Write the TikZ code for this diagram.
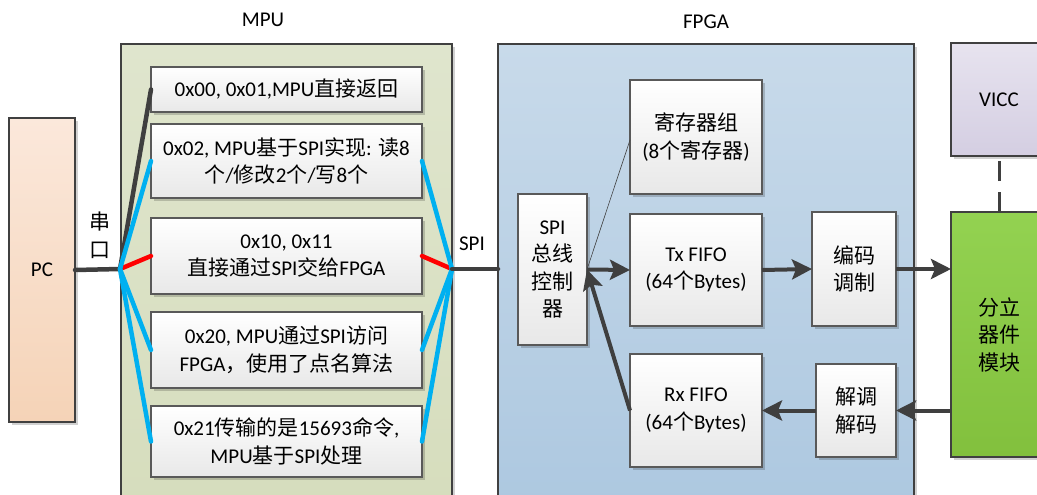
\documentclass[tikz,border=0pt]{standalone}
\usepackage{fontspec}
\setmainfont{Carlito}
\newfontfamily\cjk{Noto Sans CJK SC}
\newcommand\zh[1]{{\cjk #1}}
\usetikzlibrary{arrows.meta,shadows,calc}

\definecolor{ink}{HTML}{404040}
\definecolor{frame}{HTML}{595959}
\definecolor{wire}{HTML}{3F3F3F}
\definecolor{bluewire}{HTML}{00B0F0}
\definecolor{redwire}{HTML}{FF0000}
\definecolor{pctop}{HTML}{FBE8DB}
\definecolor{pcbot}{HTML}{F5D3B7}
\definecolor{mputop}{HTML}{DFE5CD}
\definecolor{mpubot}{HTML}{D6DDBD}
\definecolor{fpgatop}{HTML}{C8DAEA}
\definecolor{fpgabot}{HTML}{ADC8E0}
\definecolor{vicctop}{HTML}{E7E3EF}
\definecolor{viccbot}{HTML}{D4CEE2}
\definecolor{modtop}{HTML}{93D251}
\definecolor{modbot}{HTML}{82C03D}
\definecolor{celltop}{HTML}{FFFFFF}
\definecolor{cellbot}{HTML}{E8E8E8}

\tikzset{
  shade/.style={drop shadow={shadow xshift=3pt,shadow yshift=-3pt,fill=black,opacity=0.18}},
  box/.style={shape=rectangle,draw=frame,line width=1.1pt,inner sep=2pt,outer sep=0pt,
              align=center,text=black,shade},
  cell/.style={box,top color=celltop,bottom color=cellbot},
  container/.style={box,draw=ink},
  tag/.style={align=center,text=black},
  link/.style={line width=4.5pt,line cap=round},
  arr/.style={line width=4pt,draw=wire,-{Stealth[length=20pt,width=20pt,inset=4pt]}},
}

\begin{document}
\begin{tikzpicture}[x=1pt,y=-1pt,font=\fontsize{21}{27.5}\selectfont]
\useasboundingbox (0,0) rectangle (1037,495);
\clip (0,0) rectangle (1037,495);

% --- PC ---
\node[container,top color=pctop,bottom color=pcbot,minimum width=66pt,minimum height=304pt]
  (pc) at (42,270) {PC};

% --- MPU block ---
\node[container,top color=mputop,bottom color=mpubot,minimum width=331pt,minimum height=461pt]
  (mpu) at (286.5,274.5) {};
\node[tag] (mpulabel) at (263,20) {MPU};

\node[cell,minimum width=271pt,minimum height=45pt] (b1) at (286.5,89.5)
  {0x00, 0x01,MPU\zh{直接返回}};
\node[cell,minimum width=271pt,minimum height=74pt] (b2) at (286.5,161)
  {0x02, MPU\zh{基于}SPI\zh{实现}: \zh{读}8\\\zh{个}/\zh{修改}2\zh{个}/\zh{写}8\zh{个}};
\node[cell,minimum width=271pt,minimum height=76pt] (b3) at (286.5,256)
  {0x10, 0x11\\\zh{直接通过}SPI\zh{交给}FPGA};
\node[cell,minimum width=271pt,minimum height=76pt] (b4) at (286.5,350)
  {0x20, MPU\zh{通过}SPI\zh{访问}\\FPGA\zh{，使用了点名算法}};
\node[cell,minimum width=271pt,minimum height=71pt] (b5) at (286.5,441.5)
  {0x21\zh{传输的是}15693\zh{命令},\\MPU\zh{基于}SPI\zh{处理}};

% --- FPGA block ---
\node[container,top color=fpgatop,bottom color=fpgabot,minimum width=416pt,minimum height=461pt]
  (fpga) at (706,274.5) {};
\node[tag] (fpgalabel) at (706,22) {FPGA};

\node[cell,minimum width=69pt,minimum height=151pt] (spi) at (552.5,269.5)
  {SPI\\\zh{总线}\\\zh{控制}\\\zh{器}};
\node[cell,minimum width=132pt,minimum height=114pt] (reg) at (696,137)
  {\zh{寄存器组}\\(8\zh{个寄存器})};
\node[cell,minimum width=132pt,minimum height=112pt] (tx) at (696,270)
  {Tx FIFO\\(64\zh{个}Bytes)};
\node[cell,minimum width=132pt,minimum height=113pt] (rx) at (696,410.5)
  {Rx FIFO\\(64\zh{个}Bytes)};
\node[cell,minimum width=84pt,minimum height=114pt] (enc) at (854,269)
  {\zh{编码}\\\zh{调制}};
\node[cell,minimum width=80pt,minimum height=93pt] (dec) at (856,410.5)
  {\zh{解调}\\\zh{解码}};

% --- external parts ---
\node[container,top color=vicctop,bottom color=viccbot,minimum width=96pt,minimum height=113pt]
  (vicc) at (999,99.5) {VICC};
\node[container,top color=modtop,bottom color=modbot,minimum width=96pt,minimum height=245pt]
  (mod) at (999,334.5) {\zh{分立}\\\zh{器件}\\\zh{模块}};

% --- serial fan-out inside the MPU ---
\coordinate (hl) at (120,269);
\coordinate (hr) at (452,269);

\draw[link,draw=wire] (pc.east) -- (hl);
\node[tag] (serial) at (100,235.5) {\zh{串}\\\zh{口}};

\draw[link,draw=redwire] (hl) -- (b3.west);
\draw[link,draw=redwire] (b3.east) -- (hr);
\draw[link,draw=wire] (hl) -- (b1.west);
\foreach \b in {b2,b4,b5}{
  \draw[link,draw=bluewire] (hl) -- (\b.west);
  \draw[link,draw=bluewire] (\b.east) -- (hr);
}

\draw[link,draw=wire] (hr) -- (hr -| fpga.west);
\node[tag] (spilabel) at (472,244) {SPI};

% --- data paths inside the FPGA ---
\draw[line width=0.6pt,draw=ink] (spi.east) -- ([yshift=-3pt]reg.west);
\draw[arr] (spi.east) -- (tx.west);
\draw[arr] (rx.west) -- (spi.east);
\draw[arr] (tx.east) -- (enc.west);
\draw[arr] (enc.east) -- (enc.east -| mod.west);
\draw[arr] (mod.west |- dec.east) -- (dec.east);
\draw[arr] (dec.west) -- (dec.west -| rx.east);

% --- supply link ---
\draw[line width=3pt,draw=wire,dash pattern=on 20pt off 11pt] (mod.north) -- (vicc.south);
\end{tikzpicture}
\end{document}
